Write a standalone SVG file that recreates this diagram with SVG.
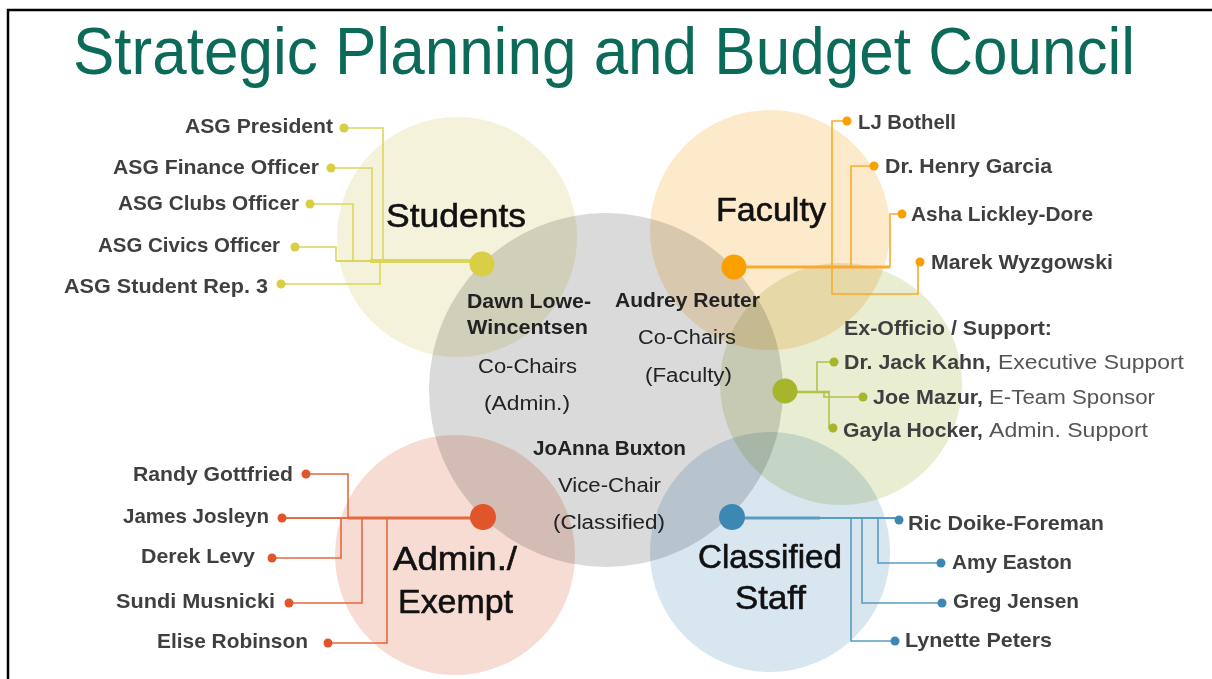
<svg xmlns="http://www.w3.org/2000/svg" width="1212" height="679" viewBox="0 0 1212 679">
<style>
.c{mix-blend-mode:multiply}
text{font-family:"Liberation Sans",Arial,sans-serif}
.title{font-size:66px;fill:#0b6b58}
.lab{font-size:34px;fill:#111;stroke:#111;stroke-width:0.6}
.mem{font-size:21px;font-weight:bold;fill:#3f3f3f}
.nm{font-size:20px;font-weight:bold;fill:#3f3f3f}
.role{font-size:20px;fill:#555}
.cb{font-size:20px;font-weight:bold;fill:#222}
.cr{font-size:20px;fill:#222}
.ln{fill:none;stroke-width:1.6}
.st{stroke:#dcd55c}
.fa{stroke:#f9aa2e}
.ex{stroke:#b3c14a}
.ad{stroke:#e46a40}
.cl{stroke:#5a9bc2}
</style>
<rect width="1212" height="679" fill="#fff"/>
<path d="M8,679 V10 H1212" fill="none" stroke="#000" stroke-width="2.5"/>
<text class="title" x="73" y="74" textLength="1062" lengthAdjust="spacingAndGlyphs">Strategic Planning and Budget Council</text>

<g id="circles">
<circle class="c" cx="457" cy="237" r="120" fill="#f4f2da"/>
<circle class="c" cx="770" cy="230" r="120" fill="#fdeacb"/>
<circle class="c" cx="455" cy="555" r="120" fill="#f7dcd3"/>
<circle class="c" cx="770" cy="552" r="120" fill="#d8e6f0"/>
<circle class="c" cx="841" cy="384" r="121" fill="#e9edd2"/>
<circle class="c" cx="606" cy="390" r="177" fill="#dadada"/>
</g>

<g id="connectors">
<g class="ln st">
<path d="M344,128 H383 V261"/>
<path d="M331,168 H372 V261"/>
<path d="M310,204 H353 V261"/>
<path d="M295,247 H336 V261"/>
<path d="M281,284 H380 V261"/>
<path d="M336,261 H482" stroke-width="2"/>
<path d="M370,261 H482" stroke-width="4"/>
</g>
<g class="ln fa">
<path d="M734,267 H890" stroke-width="3"/>
<path d="M902,214 H890 V267"/>
<path d="M874,166 H851 V267"/>
<path d="M847,121 H832 V294 H918 V262"/>
</g>
<g class="ln ex">
<path d="M785,392 H830" stroke-width="2.5"/>
<path d="M834,362 H817 V392"/>
<path d="M824,392 V397 H863"/>
<path d="M833,428 H829 V392"/>
</g>
<g class="ln ad">
<path d="M282,518 H483" stroke-width="2"/>
<path d="M348,518 H483" stroke-width="3"/>
<path d="M306,474 H348 V518"/>
<path d="M272,558 H341 V518"/>
<path d="M289,603 H362 V518"/>
<path d="M328,643 H387 V518"/>
</g>
<g class="ln cl">
<path d="M732,518 H897" stroke-width="2"/>
<path d="M732,518 H820" stroke-width="3"/>
<path d="M878,518 V563 H941"/>
<path d="M862,518 V603 H942"/>
<path d="M851,518 V641 H895"/>
</g>
</g>

<g id="students">
<circle cx="482" cy="264" r="12.5" fill="#d8cf45"/>
<text class="lab" x="386" y="227" textLength="140" lengthAdjust="spacingAndGlyphs">Students</text>
<g fill="#d8cf45">
<circle cx="344" cy="128" r="4.5"/><circle cx="331" cy="168" r="4.5"/><circle cx="310" cy="204" r="4.5"/><circle cx="295" cy="247" r="4.5"/><circle cx="281" cy="284" r="4.5"/>
</g>
<text class="mem" x="185" y="133" textLength="148" lengthAdjust="spacingAndGlyphs">ASG President</text>
<text class="mem" x="113" y="174" textLength="206" lengthAdjust="spacingAndGlyphs">ASG Finance Officer</text>
<text class="mem" x="118" y="210" textLength="181" lengthAdjust="spacingAndGlyphs">ASG Clubs Officer</text>
<text class="mem" x="98" y="252" textLength="182" lengthAdjust="spacingAndGlyphs">ASG Civics Officer</text>
<text class="mem" x="64" y="293" textLength="204" lengthAdjust="spacingAndGlyphs">ASG Student Rep. 3</text>
</g>

<g id="faculty">
<circle cx="734" cy="267" r="12.5" fill="#f9a000"/>
<text class="lab" x="716" y="221" textLength="110" lengthAdjust="spacingAndGlyphs">Faculty</text>
<g fill="#f9a000">
<circle cx="847" cy="121" r="4.5"/><circle cx="874" cy="166" r="4.5"/><circle cx="902" cy="214" r="4.5"/><circle cx="920" cy="262" r="4.5"/>
</g>
<text class="mem" x="858" y="129" textLength="98" lengthAdjust="spacingAndGlyphs">LJ Bothell</text>
<text class="mem" x="885" y="173" textLength="167" lengthAdjust="spacingAndGlyphs">Dr. Henry Garcia</text>
<text class="mem" x="911" y="221" textLength="182" lengthAdjust="spacingAndGlyphs">Asha Lickley-Dore</text>
<text class="mem" x="931" y="269" textLength="182" lengthAdjust="spacingAndGlyphs">Marek Wyzgowski</text>
</g>

<g id="exofficio">
<circle cx="785" cy="391" r="12.5" fill="#a6b52b"/>
<g fill="#a6b52b">
<circle cx="834" cy="362" r="4.5"/><circle cx="863" cy="397" r="4.5"/><circle cx="833" cy="428" r="4.5"/>
</g>
<text class="nm" x="844" y="335" textLength="208" lengthAdjust="spacingAndGlyphs">Ex-Officio / Support:</text>
<text class="nm" x="844" y="369" textLength="147" lengthAdjust="spacingAndGlyphs">Dr. Jack Kahn,</text>
<text class="role" x="998" y="369" textLength="186" lengthAdjust="spacingAndGlyphs">Executive Support</text>
<text class="nm" x="873" y="404" textLength="110" lengthAdjust="spacingAndGlyphs">Joe Mazur,</text>
<text class="role" x="989" y="404" textLength="166" lengthAdjust="spacingAndGlyphs">E-Team Sponsor</text>
<text class="nm" x="843" y="437" textLength="140" lengthAdjust="spacingAndGlyphs">Gayla Hocker,</text>
<text class="role" x="989" y="437" textLength="159" lengthAdjust="spacingAndGlyphs">Admin. Support</text>
</g>

<g id="admin">
<circle cx="483" cy="517" r="13" fill="#e0552a"/>
<text class="lab" x="393" y="570" textLength="124" lengthAdjust="spacingAndGlyphs">Admin./</text>
<text class="lab" x="398" y="613" textLength="115" lengthAdjust="spacingAndGlyphs">Exempt</text>
<g fill="#e0552a">
<circle cx="306" cy="474" r="4.5"/><circle cx="282" cy="518" r="4.5"/><circle cx="272" cy="558" r="4.5"/><circle cx="289" cy="603" r="4.5"/><circle cx="328" cy="643" r="4.5"/>
</g>
<text class="mem" x="133" y="481" textLength="160" lengthAdjust="spacingAndGlyphs">Randy Gottfried</text>
<text class="mem" x="123" y="523" textLength="146" lengthAdjust="spacingAndGlyphs">James Josleyn</text>
<text class="mem" x="141" y="563" textLength="114" lengthAdjust="spacingAndGlyphs">Derek Levy</text>
<text class="mem" x="116" y="608" textLength="159" lengthAdjust="spacingAndGlyphs">Sundi Musnicki</text>
<text class="mem" x="157" y="648" textLength="151" lengthAdjust="spacingAndGlyphs">Elise Robinson</text>
</g>

<g id="classified">
<circle cx="732" cy="517" r="13" fill="#3d88b3"/>
<text class="lab" x="698" y="568" textLength="144" lengthAdjust="spacingAndGlyphs">Classified</text>
<text class="lab" x="735" y="609" textLength="71" lengthAdjust="spacingAndGlyphs">Staff</text>
<g fill="#3d88b3">
<circle cx="899" cy="520" r="4.5"/><circle cx="941" cy="563" r="4.5"/><circle cx="942" cy="603" r="4.5"/><circle cx="895" cy="641" r="4.5"/>
</g>
<text class="mem" x="908" y="530" textLength="196" lengthAdjust="spacingAndGlyphs">Ric Doike-Foreman</text>
<text class="mem" x="952" y="569" textLength="120" lengthAdjust="spacingAndGlyphs">Amy Easton</text>
<text class="mem" x="953" y="608" textLength="126" lengthAdjust="spacingAndGlyphs">Greg Jensen</text>
<text class="mem" x="905" y="647" textLength="147" lengthAdjust="spacingAndGlyphs">Lynette Peters</text>
</g>

<g id="chairs">
<text class="cb" x="467" y="308" textLength="124" lengthAdjust="spacingAndGlyphs" fill="#2b2b1f">Dawn Lowe-</text>
<text class="cb" x="467" y="334" textLength="121" lengthAdjust="spacingAndGlyphs" fill="#2b2b1f">Wincentsen</text>
<text class="cr" x="478" y="373" textLength="99" lengthAdjust="spacingAndGlyphs">Co-Chairs</text>
<text class="cr" x="484" y="410" textLength="86" lengthAdjust="spacingAndGlyphs">(Admin.)</text>
<text class="cb" x="615" y="307" textLength="145" lengthAdjust="spacingAndGlyphs">Audrey Reuter</text>
<text class="cr" x="638" y="344" textLength="98" lengthAdjust="spacingAndGlyphs">Co-Chairs</text>
<text class="cr" x="645" y="382" textLength="87" lengthAdjust="spacingAndGlyphs">(Faculty)</text>
<text class="cb" x="533" y="455" textLength="153" lengthAdjust="spacingAndGlyphs">JoAnna Buxton</text>
<text class="cr" x="558" y="492" textLength="103" lengthAdjust="spacingAndGlyphs">Vice-Chair</text>
<text class="cr" x="553" y="529" textLength="112" lengthAdjust="spacingAndGlyphs">(Classified)</text>
</g>
</svg>
